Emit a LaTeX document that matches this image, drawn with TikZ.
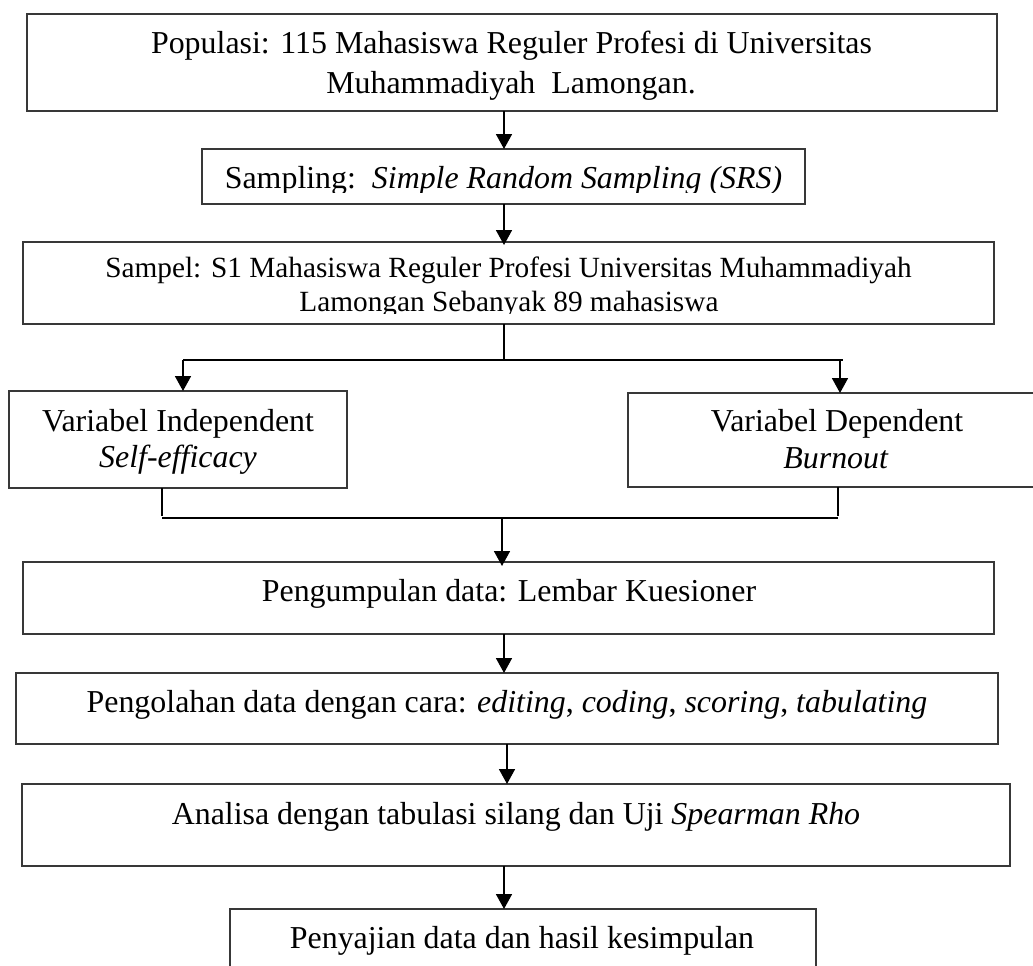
\documentclass[tikz,border=0pt]{standalone}
\usepackage{fontspec}
\setmainfont{Liberation Serif}
\usetikzlibrary{arrows.meta}
\begin{document}
\begin{tikzpicture}[x=1pt,y=-1pt,
  box/.style={draw=black!78,line width=1.2pt,rectangle,inner sep=0pt,outer sep=0pt},
  txt/.style={font=\fontsize{31.9}{38}\selectfont,anchor=base,inner sep=0pt,text=black},
  smalltxt/.style={font=\fontsize{29.3}{34}\selectfont,anchor=base,inner sep=0pt,text=black},
  conn/.style={draw=black,line width=1.7pt},
  arr/.style={conn,-{Triangle[width=16pt,length=15pt]}}]
\useasboundingbox (0,0) rectangle (1033,966);
\fill[white] (0,0) rectangle (1033,966);
% boxes
\node[box,minimum width=970pt,minimum height=97pt] (b1) at (512,62.5) {};
\node[box,minimum width=603pt,minimum height=55pt] (b2) at (503.5,176.5) {};
\node[box,minimum width=971pt,minimum height=82pt] (b3) at (508.5,283) {};
\node[box,minimum width=338pt,minimum height=97pt] (b4) at (178,439.5) {};
\node[box,minimum width=418pt,minimum height=94pt] (b5) at (837,440) {};
\node[box,minimum width=971pt,minimum height=72pt] (b6) at (508.5,598) {};
\node[box,minimum width=982pt,minimum height=71pt] (b7) at (507,708.5) {};
\node[box,minimum width=988pt,minimum height=82pt] (b8) at (516,825) {};
\node[box,minimum width=586pt,minimum height=80pt] (b9) at (523,949) {};
% texts
\node[txt] (t1a) at (511.5,53) {Populasi: 115 Mahasiswa Reguler Profesi di Universitas};
\node[txt] (t1b) at (511,93) {Muhammadiyah\ \ Lamongan.};
\begin{scope}
\clip (0,0) rectangle (1033,192.5);
\node[txt] (t2) at (503.5,188.5) {Sampling:\ \ \textit{Simple Random Sampling (SRS)}};
\end{scope}
\node[smalltxt] (t3a) at (508.5,277) {Sampel: S1 Mahasiswa Reguler Profesi Universitas Muhammadiyah};
\begin{scope}
\clip (0,0) rectangle (1033,313.5);
\node[smalltxt] (t3b) at (509,311) {Lamongan Sebanyak 89 mahasiswa};
\end{scope}
\node[txt] (t4a) at (178,431) {Variabel Independent};
\node[txt] (t4b) at (178,467) {\textit{Self-efficacy}};
\node[txt] (t5a) at (837,431.5) {Variabel Dependent};
\node[txt] (t5b) at (836,468) {\textit{Burnout}};
\node[txt] (t6) at (509,601) {Pengumpulan data: Lembar Kuesioner};
\node[txt] (t7) at (507,712) {Pengolahan data dengan cara: \textit{editing}, \textit{coding}, \textit{scoring}, \textit{tabulating}};
\node[txt] (t8) at (516,824) {Analisa dengan tabulasi silang dan Uji \textit{Spearman Rho}};
\node[txt] (t9) at (522,948) {Penyajian data dan hasil kesimpulan};
% helper coordinates
\coordinate (x504) at (504,0);
\coordinate (x502) at (502,0);
\coordinate (x507) at (507,0);
\coordinate (s1) at (504,360);
\coordinate (sl) at (183,360);
\coordinate (sr) at (843,360);
\coordinate (sr2) at (840,360);
\coordinate (m1) at (162,518);
\coordinate (m2) at (838,518);
\coordinate (mc) at (502,518);
% connectors
\draw[arr] (b1.south -| x504) -- (b2.north -| x504);
\draw[arr] (b2.south -| x504) -- ([yshift=-3pt]b3.north -| x504);
\draw[conn] (b3.south -| x504) -- (s1);
\draw[conn] (sl) -- (sr);
\draw[arr] (sl) -- (b4.north -| sl);
\draw[arr] (sr2) -- (b5.north -| sr2);
\draw[conn] (b4.south -| m1) -- ([yshift=2pt]m1);
\draw[conn] (m1) -- (m2);
\draw[conn] (b5.south -| m2) -- ([yshift=2pt]m2);
\draw[arr] (mc) -- ([yshift=-4pt]b6.north -| mc);
\draw[arr] (b6.south -| x504) -- (b7.north -| x504);
\draw[arr] (b7.south -| x507) -- (b8.north -| x507);
\draw[arr] (b8.south -| x504) -- (b9.north -| x504);
\end{tikzpicture}
\end{document}
